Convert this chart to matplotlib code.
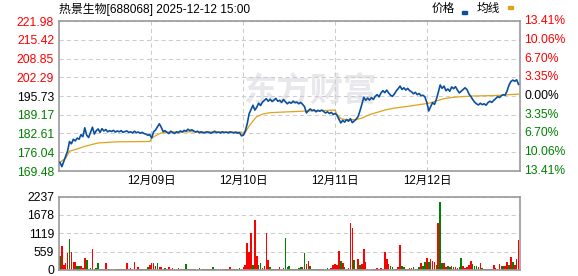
import numpy as np
import matplotlib
matplotlib.use('Agg')
import matplotlib.pyplot as plt
from matplotlib.patches import Rectangle

plt.rcParams['font.family'] = ['Liberation Sans', 'Noto Sans CJK SC']

# chart header
title = '热景生物[688068] 2025-12-12 15:00'
prev_close = 195.73

# price axis ticks (top to bottom) and the matching % change labels
price_ticks = [221.98, 215.42, 208.85, 202.29, 195.73, 189.17, 182.61, 176.04, 169.48]
pct_labels = ['13.41%', '10.06%', '6.70%', '3.35%', '0.00%', '3.35%', '6.70%', '10.06%', '13.41%']
vol_ticks = [2237, 1678, 1119, 559, 0]

# 5 trading days, 241 minutes each -> day separators in minutes
day_breaks = [241, 482, 723, 964]
day_labels = ['12月09日', '12月10日', '12月11日', '12月12日']
total_minutes = 1205

# price sampled every 5 minutes (241 bins over the 5 days)
price = [
    172.5, 171.0, 172.8, 174.5, 176.5, 179.8, 179.0, 180.6, 180.0, 181.0,
    180.6, 182.2, 181.5, 184.6, 182.0, 181.2, 183.0, 184.8, 182.4, 183.6,
    184.2, 183.0, 184.3, 183.5, 184.0, 183.2, 183.6, 183.3, 183.7, 183.1,
    183.5, 183.2, 183.6, 183.0, 183.3, 183.5, 183.0, 183.2, 182.8, 183.4,
    182.9, 183.1, 182.7, 183.0, 182.6, 182.4, 182.0, 182.2,
    181.0, 183.2, 183.8, 184.9, 186.0, 184.8, 183.3, 183.6, 183.0, 182.6,
    183.4, 183.0, 182.6, 183.2, 182.9, 183.5, 183.1, 183.7, 183.4, 184.1,
    183.6, 183.9, 183.5, 183.1, 183.4, 182.9, 183.2, 182.8, 182.9, 183.2,
    183.0, 182.7, 183.0, 183.4, 182.9, 183.1, 182.8, 183.2, 182.9, 183.1,
    182.8, 183.2, 183.0, 182.8, 183.1, 182.7, 182.9, 181.8,
    182.0, 183.5, 186.0, 189.5, 191.0, 192.5, 190.8, 191.8, 193.2, 192.4,
    193.6, 194.2, 194.8, 193.9, 194.6, 193.8, 194.3, 194.9, 193.9, 194.2,
    193.5, 194.5, 193.7, 193.0, 193.6, 193.2, 193.9, 193.4, 193.6, 193.0,
    193.5, 192.8, 192.0, 189.8, 190.6, 191.2, 190.6, 190.9, 190.2, 190.7,
    190.4, 190.8, 190.3, 189.8, 190.2, 189.6, 190.0, 189.3, 189.6,
    189.0, 187.6, 186.3, 187.2, 186.6, 187.5, 186.9, 187.8, 186.4, 187.0,
    187.6, 188.5, 190.5, 192.8, 195.3, 194.2, 195.0, 194.3, 195.2, 194.5,
    195.6, 196.2, 195.4, 196.8, 197.6, 196.9, 197.8, 196.8, 196.0, 195.6,
    196.4, 197.5, 198.3, 199.2, 198.0, 198.6, 197.8, 198.4, 197.6, 197.2,
    196.5, 197.0, 196.2, 196.6, 195.8, 196.0, 195.4, 193.5,
    190.5, 192.0, 193.4, 192.8, 194.6, 197.0, 199.6, 198.4, 199.2, 197.6,
    198.2, 197.4, 198.9, 198.3, 199.0, 197.8, 196.8, 197.4, 198.0, 198.6,
    198.0, 196.5, 195.6, 194.5, 193.6, 193.0, 192.6, 193.2, 192.7, 193.0,
    192.5, 193.4, 193.9, 193.5, 194.2, 194.8, 195.5, 195.2, 195.8, 196.2,
    196.0, 197.5, 199.5, 200.8, 201.3, 200.9, 201.4, 199.8,
]

# daily average price line (bin index -> value), resets every day
avg_bin = [0, 3, 5, 8, 13, 20, 30, 47,
           48, 50, 53, 56, 70, 95,
           96, 97, 99, 101, 103, 106, 110, 120, 130, 144,
           145, 147, 150, 155, 158, 162, 165, 170, 175, 182, 192,
           193, 197, 201, 206, 215, 228, 240]
avg_val = [172.5, 174.0, 176.4, 177.0, 178.1, 179.3, 179.7, 179.8,
           181.0, 181.8, 182.8, 183.1, 183.2, 183.1,
           182.0, 183.0, 185.2, 187.0, 188.5, 189.4, 189.9, 190.2, 190.5, 190.8,
           189.2, 187.8, 187.4, 187.5, 188.0, 189.2, 189.8, 190.8, 191.5, 192.1, 193.1,
           193.2, 194.0, 194.8, 195.3, 195.7, 195.9, 196.4]

# volume per 5-minute bin and direction (r = up, g = down)
volume = [
    417, 722, 142, 213, 519, 946, 539, 234, 234, 110,
    130, 110, 60, 356, 295, 40, 60, 630, 40, 60,
    213, 40, 40, 40, 203, 40, 30, 40, 40, 30,
    40, 40, 30, 40, 40, 203, 40, 50, 40, 244,
    40, 80, 40, 30, 40, 40, 80, 142,
    203, 203, 112, 203, 80, 90, 40, 60, 40, 80,
    40, 50, 40, 30, 60, 40, 30, 40, 173, 40,
    30, 40, 30, 40, 40, 60, 40, 30, 40, 40,
    30, 40, 80, 40, 30, 40, 40, 30, 40, 40,
    30, 80, 40, 30, 40, 40, 50, 40, 80, 142,
    814, 539, 1119, 142, 1515, 417, 142, 203, 50, 110,
    1119, 295, 80, 40, 40, 30, 40, 80, 40, 50,
    966, 80, 110, 40, 30, 40, 40, 50, 80, 80,
    519, 173, 264, 110, 40, 30, 40, 40, 30, 40,
    40, 30, 50, 40, 50, 142, 173, 142, 570, 264,
    213, 80, 40, 50, 1434, 1271, 295, 40, 325, 142,
    173, 630, 234, 40, 40, 30, 40, 40, 50, 40,
    50, 40, 539, 336, 173, 110, 80, 40, 40, 80,
    753, 110, 80, 40, 40, 50, 50, 80, 40, 40,
    80, 203, 110, 234, 356, 234, 325, 264, 234, 142,
    1424, 2064, 203, 203, 80, 110, 80, 110, 80, 80,
    50, 80, 356, 110, 50, 80, 142, 264, 173, 110,
    110, 80, 203, 50, 40, 40, 30, 40, 40, 142,
    50, 40, 173, 110, 110, 110, 234, 142, 386, 234,
    142, 325, 905,
]
vol_dir = ''.join([
    'grrrrgrrrg', 'grrrgggrrg', 'ggrrrrrgrr', 'rgrrrrrrrr', 'rrrgrggr',
    'rrrgrrrgrr', 'rrrgrrrggg', 'rrgrrgrrgr', 'rrgrrrgrrr', 'grrrrggrrr',
    'rrrgrrggrr', 'rrggrrrrrr', 'gggrrgrggr', 'grrgrrrgrr', 'rrgrrrrrrg',
    'rgrrrrgrrg', 'rrrrrgrrrr', 'rrrrrggrrr', 'rggrrrrgrg', 'grggrgrrrg',
    'rggrrggrgr', 'rggrrrrrgg', 'grrgrrrgrr', 'rrrrgrrgrg', 'rrr',
])

RED = '#ff0000'
GREEN = '#008000'
BLUE = '#0b4f9e'
ORANGE = '#e0a21b'
GRID = '#cccccc'
FRAME = '#9a9a9a'
FS = 8.7

W, H = 578, 276


def px_box(left, top, right, bottom):
    return [left / W, 1 - bottom / H, (right - left) / W, (bottom - top) / H]


def level_color(v):
    if v > prev_close:
        return RED
    if v < prev_close:
        return GREEN
    return 'black'


fig = plt.figure(figsize=(W / 100, H / 100), dpi=100)
ax = fig.add_axes(px_box(59, 21, 519.5, 171))
axv = fig.add_axes(px_box(59, 196.5, 519.5, 270))

# price panel
price_x = np.arange(len(price)) * 5 + 2.5
avg_x = np.array(avg_bin) * 5 + 2.5
ax.plot(price_x, price, color=BLUE, lw=1.2, zorder=3)
ax.plot(avg_x, avg_val, color=ORANGE, lw=0.9, zorder=2)
ax.set_xlim(0, total_minutes)
ax.set_ylim(price_ticks[-1], price_ticks[0])
ax.set_yticks(price_ticks)
ax.set_yticklabels(['%.2f' % v for v in price_ticks])
for lbl, v in zip(ax.get_yticklabels(), price_ticks):
    lbl.set_color(level_color(v))
ax.set_xticks(day_breaks)
ax.set_xticklabels(day_labels)
ax.tick_params(axis='y', length=0, pad=3.5, labelsize=FS)
ax.tick_params(axis='x', length=0, pad=3, labelsize=8.3)
ax.set_axisbelow(True)
ax.grid(True, ls=(0, (4, 3)), color=GRID, lw=0.75)

for v, lab in zip(price_ticks, pct_labels):
    ax.text(1.01, v, lab, transform=ax.get_yaxis_transform(), ha='left',
            va='center', color=level_color(v), fontsize=FS)

# watermark
ax.text(0.545, 0.527, '东方财富', transform=ax.transAxes, fontsize=24,
        color='#e8e8ec', fontweight='bold', family='Noto Sans CJK SC',
        ha='center', va='center', zorder=0.2)

# volume panel
bar_colors = [RED if c == 'r' else GREEN for c in vol_dir]
axv.bar(price_x, volume, width=4.2, color=bar_colors, linewidth=0)
axv.set_xlim(0, total_minutes)
axv.set_ylim(0, vol_ticks[0])
axv.set_yticks(vol_ticks)
axv.set_yticklabels([str(v) for v in vol_ticks])
axv.set_xticks([])
axv.tick_params(axis='y', length=0, pad=3.5, labelsize=FS)
axv.set_axisbelow(True)
axv.grid(True, axis='y', ls=(0, (4, 3)), color=GRID, lw=0.75)

for a in (ax, axv):
    for s in a.spines.values():
        s.set_color(FRAME)
        s.set_linewidth(1.2)

# header and legend
fig.text(59 / W, 1 - 9 / H, title, fontsize=8.6, va='center', ha='left')
fig.text(431.5 / W, 1 - 9 / H, '价格', fontsize=8.4, va='center', ha='left')
fig.patches.append(Rectangle((462 / W, 1 - 13.5 / H), 4.5 / W, 2.8 / H,
                             transform=fig.transFigure, color=BLUE))
fig.text(477 / W, 1 - 9 / H, '均线', fontsize=8.4, va='center', ha='left')
fig.patches.append(Rectangle((508 / W, 1 - 8.5 / H), 5 / W, 2.5 / H,
                             transform=fig.transFigure, color=ORANGE))

fig.savefig('out.png', dpi=100)
